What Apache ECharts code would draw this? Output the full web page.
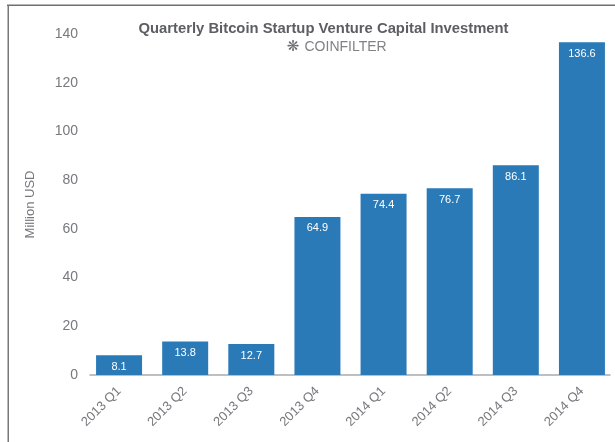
<!DOCTYPE html>
<html>
<head>
<meta charset="utf-8">
<style>html,body{margin:0;padding:0;background:#fff}#chart{width:615px;height:442px}</style>
<script src="https://cdn.jsdelivr.net/npm/echarts@6/dist/echarts.min.js"></script>
</head>
<body>
<div id="chart"></div>
<script>
// Quarterly venture capital investment in Bitcoin startups, million USD
const quarters = ['2013 Q1','2013 Q2','2013 Q3','2013 Q4','2014 Q1','2014 Q2','2014 Q3','2014 Q4'];
const investment = [8.1, 13.8, 12.7, 64.9, 74.4, 76.7, 86.1, 136.6];
const titleText = 'Quarterly Bitcoin Startup Venture Capital Investment';
const brandText = 'COINFILTER';
const yAxisName = 'Million USD';

const fontFamily = '"Liberation Sans", Arial, sans-serif';
const textColor = '#77797d';
const chart = echarts.init(document.getElementById('chart'), null, {renderer: 'canvas'});

chart.setOption({
  animation: false,
  backgroundColor: '#fff',
  textStyle: {fontFamily},
  // First grid holds the bars; second only carries the shorter baseline
  grid: [
    {left: 86, width: 530, top: 34, height: 341},
    {left: 90, width: 520, top: 34, height: 341}
  ],
  xAxis: [
    {
      type: 'category', gridIndex: 0, data: quarters,
      axisLine: {show: false}, axisTick: {show: false},
      axisLabel: {
        rotate: 45, color: textColor, fontSize: 13, margin: 14,
        interval: 0, fontFamily
      }
    },
    {
      type: 'category', gridIndex: 1, data: quarters,
      axisLine: {show: true, lineStyle: {color: '#a9abae', width: 1.5}},
      axisTick: {show: false}, axisLabel: {show: false}
    }
  ],
  yAxis: [
    {
      type: 'value', gridIndex: 0, min: 0, max: 140, interval: 20,
      axisLine: {show: false}, axisTick: {show: false}, splitLine: {show: false},
      axisLabel: {color: textColor, fontSize: 14, margin: 8, padding: [4, 0, 0, 0], fontFamily},
      name: yAxisName, nameLocation: 'middle', nameRotate: 90, nameGap: 49,
      nameTextStyle: {color: textColor, fontSize: 13, fontFamily}
    },
    {
      type: 'value', gridIndex: 1, min: 0, max: 140, interval: 20, show: false
    }
  ],
  series: [{
    type: 'bar', xAxisIndex: 0, yAxisIndex: 0,
    data: investment, barWidth: 46,
    itemStyle: {color: '#2a7ab8'},
    label: {
      show: true, position: 'insideTop', distance: 6,
      color: '#fff', fontSize: 11, fontFamily,
      formatter: p => p.value.toFixed(1)
    },
    emphasis: {disabled: true}
  }, {
    type: 'bar', xAxisIndex: 1, yAxisIndex: 1, data: [], silent: true
  }],
  graphic: [
    {type: 'rect', shape: {x: 7, y: 4.5, width: 608, height: 1.5}, style: {fill: '#6f7072'}},
    {type: 'rect', shape: {x: 7.5, y: 5, width: 1.5, height: 437}, style: {fill: '#77787a'}},
    {type: 'text', style: {
      text: titleText, x: 323.5, y: 28.5, align: 'center', verticalAlign: 'middle',
      font: 'bold 14.8px ' + fontFamily, fill: '#5c5e63'
    }},
    {type: 'text', style: {
      text: '\u274B', x: 293, y: 47, align: 'center', verticalAlign: 'middle',
      font: 'bold 15px "DejaVu Sans"', fill: '#6a6c70'
    }},
    {type: 'text', style: {
      text: brandText, x: 304.5, y: 47.5, align: 'left', verticalAlign: 'middle',
      font: '14px ' + fontFamily, fill: '#808286'
    }}
  ]
});
</script>
</body>
</html>
